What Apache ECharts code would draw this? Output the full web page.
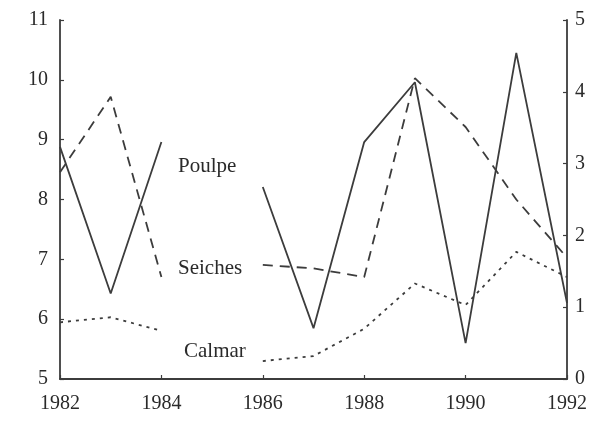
<!DOCTYPE html>
<html><head><meta charset="utf-8">
<script src="https://cdn.jsdelivr.net/npm/echarts@6/dist/echarts.min.js"></script>
<style>html,body{margin:0;padding:0;background:#fff}#c{width:600px;height:431px}</style>
</head><body><div id="c"></div>
<script>
const years = [1982,1983,1984,1985,1986,1987,1988,1989,1990,1991,1992];
const poulpe = [8.88,6.43,8.96,null,8.21,5.85,8.96,9.96,5.6,10.45,6.27];
const seiches = [2.88,3.93,1.42,null,1.59,1.54,1.42,4.19,3.51,2.5,1.69];
const calmar = [0.79,0.86,0.67,null,0.25,0.32,0.70,1.33,1.03,1.77,1.42];
const seriesNames = ['Poulpe','Seiches','Calmar'];

const pair = arr => years.map((y,i)=>[y, arr[i]===null ? '-' : arr[i]]);
const ink = '#3c3c3c';
const font = '"Liberation Serif", "DejaVu Serif", serif';
const chart = echarts.init(document.getElementById('c'));
const axisCommon = {
  axisLine:{show:true,lineStyle:{color:ink,width:1.8}},
  axisTick:{show:true,inside:true,length:4,lineStyle:{color:ink,width:1.2}},
  splitLine:{show:false},
  axisLabel:{color:'#2a2a2a',fontFamily:font,fontSize:20}
};
chart.setOption({
  backgroundColor:'#fff',
  animation:false,
  grid:{left:60,right:33,top:20,bottom:52},
  xAxis:Object.assign({type:'value',min:1982,max:1992,interval:2},axisCommon,
    {axisLabel:Object.assign({},axisCommon.axisLabel,{margin:15,formatter:v=>String(v)})}),
  yAxis:[
    Object.assign({type:'value',min:5,max:11,interval:1,position:'left'},axisCommon,
      {axisLabel:Object.assign({},axisCommon.axisLabel,{margin:12})}),
    Object.assign({type:'value',min:0,max:5,interval:1,position:'right'},axisCommon,
      {axisLabel:Object.assign({},axisCommon.axisLabel,{margin:8})})
  ],
  series:[
    {name:seriesNames[0],type:'line',yAxisIndex:0,data:pair(poulpe),symbol:'none',
     connectNulls:false,lineStyle:{color:ink,width:1.8,type:'solid'}},
    {name:seriesNames[1],type:'line',yAxisIndex:1,data:pair(seiches),symbol:'none',
     connectNulls:false,lineStyle:{color:ink,width:1.8,type:[10,7]}},
    {name:seriesNames[2],type:'line',yAxisIndex:1,data:pair(calmar),symbol:'none',
     connectNulls:false,lineStyle:{color:ink,width:1.8,type:[3,5]}}
  ],
  graphic:[
    {type:'text',left:178,top:156,style:{text:seriesNames[0],font:'21px '+font,fill:'#2a2a2a'}},
    {type:'text',left:178,top:258,style:{text:seriesNames[1],font:'21px '+font,fill:'#2a2a2a'}},
    {type:'text',left:184,top:341,style:{text:seriesNames[2],font:'21px '+font,fill:'#2a2a2a'}}
  ]
});
</script></body></html>
